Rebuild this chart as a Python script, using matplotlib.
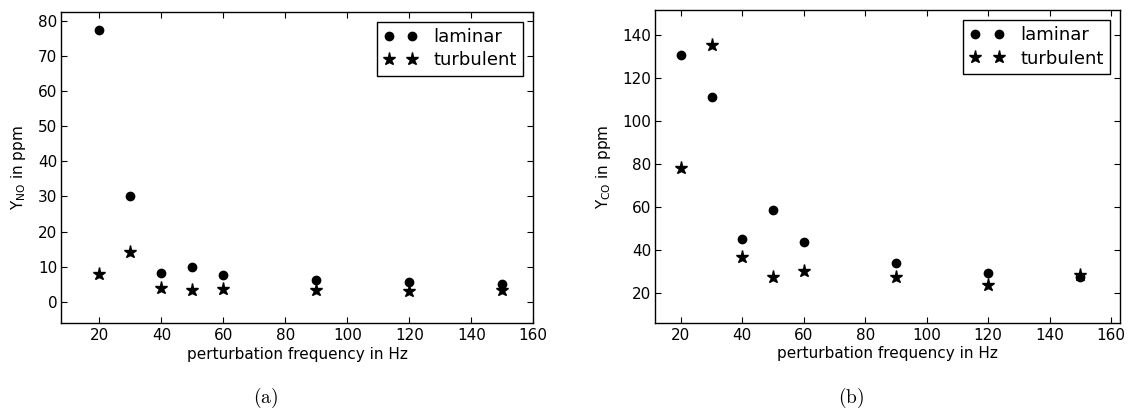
import matplotlib
matplotlib.use("Agg")
import matplotlib.pyplot as plt

# Perturbation frequencies (Hz)
freq = [20, 30, 40, 50, 60, 90, 120, 150]

# NO mass fraction (ppm)
no_laminar = [77.5, 30.0, 8.2, 10.0, 7.6, 6.2, 5.6, 5.2]
no_turbulent = [7.8, 14.3, 4.0, 3.5, 3.6, 3.3, 3.1, 3.5]

# CO mass fraction (ppm)
co_laminar = [130.5, 111.0, 45.0, 58.7, 43.7, 34.0, 29.2, 27.5]
co_turbulent = [78.0, 135.0, 37.0, 27.5, 30.5, 27.3, 23.7, 28.5]

xticks = [20, 40, 60, 80, 100, 120, 140, 160]
no_yticks = [0, 10, 20, 30, 40, 50, 60, 70, 80]
co_yticks = [20, 40, 60, 80, 100, 120, 140]

plt.rcParams.update({
    "font.family": "DejaVu Sans",
    "font.size": 11,
    "mathtext.fontset": "dejavusans",
    "xtick.direction": "in",
    "ytick.direction": "in",
    "xtick.top": True,
    "ytick.right": True,
    "xtick.major.size": 4,
    "ytick.major.size": 4,
    "xtick.major.pad": 3.5,
    "ytick.major.pad": 2.5,
    "axes.linewidth": 1.0,
})

fig = plt.figure(figsize=(11.29, 4.11), dpi=100)
W, H = 1129, 411

def make_axes(left, right, top, bottom):
    return fig.add_axes([left / W, 1 - bottom / H, (right - left) / W, (bottom - top) / H])

ax1 = make_axes(60.7, 533.3, 11.7, 323.3)
ax2 = make_axes(655.0, 1120.0, 10.0, 322.7)

panels = [
    (ax1, no_laminar, no_turbulent, no_yticks, (7.5, 160), (-6.1, 82.6),
     r"Y$_{\mathrm{NO}}$ in ppm", "(a)", 265.5),
    (ax2, co_laminar, co_turbulent, co_yticks, (11.6, 162.9), (6.3, 151.4),
     r"Y$_{\mathrm{CO}}$ in ppm", "(b)", 851.0),
]

for ax, lam, turb, yt, xl, yl, ylabel, cap, cap_x in panels:
    ax.plot(freq, lam, linestyle="none", marker="o", color="black", markersize=6,
            label="laminar")
    ax.plot(freq, turb, linestyle="none", marker="*", color="black", markersize=9.5,
            label="turbulent")
    ax.set_xlim(*xl)
    ax.set_ylim(*yl)
    ax.set_xticks(xticks)
    ax.set_yticks(yt)
    ax.set_xlabel("perturbation frequency in Hz", labelpad=2.5)
    ax.set_ylabel(ylabel, labelpad=7)
    leg = ax.legend(loc="upper right", numpoints=2, fancybox=False, framealpha=1,
                    edgecolor="black", borderaxespad=0.55, handlelength=1.9,
                    handletextpad=0.9, borderpad=0.35, labelspacing=0.3,
                    prop={"size": 13})
    leg.get_frame().set_linewidth(1.0)
    fig.text(cap_x / W, 1 - 398 / H, r"$\mathrm{" + cap + "}$", ha="center", va="center",
             math_fontfamily="cm", fontsize=14)

fig.savefig("out.png", dpi=100)
